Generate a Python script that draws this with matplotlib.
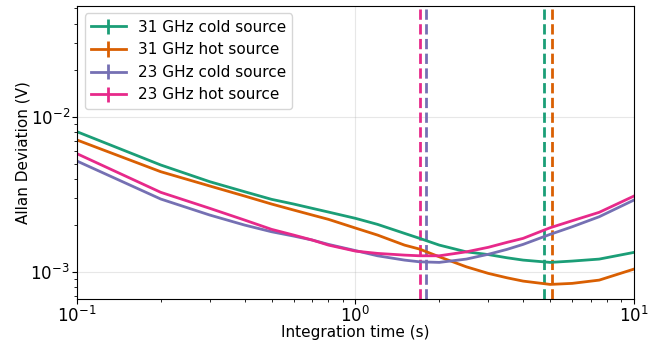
import numpy as np
import matplotlib
matplotlib.use("Agg")
import matplotlib.pyplot as plt

# integration times (s)
tau = [0.1, 0.2, 0.3, 0.4, 0.5, 0.6, 0.7, 0.8, 1.0, 1.2, 1.5, 1.7, 2.0,
       2.5, 3.0, 3.5, 4.0, 5.0, 6.0, 7.5, 10.0]

# Allan deviation (V)
adev_31_cold = [0.008036, 0.004902, 0.003825, 0.003297, 0.002944, 0.002746, 0.002576,
                0.002438, 0.002221, 0.002031, 0.001777, 0.00165, 0.001493, 0.001351,
                0.001297, 0.001237, 0.001195, 0.001155, 0.001178, 0.001213, 0.00134]
adev_31_hot = [0.007106, 0.004437, 0.003589, 0.003092, 0.002746, 0.002512, 0.002332,
               0.002188, 0.001923, 0.001733, 0.001493, 0.001407, 0.001255, 0.001082,
               0.000981, 0.000919, 0.000875, 0.000833, 0.000846, 0.000888, 0.001046]
adev_23_cold = [0.0052, 0.002958, 0.002332, 0.00201, 0.00182, 0.001707, 0.001609,
                0.001509, 0.001376, 0.001274, 0.001195, 0.001165, 0.001155, 0.001213,
                0.001303, 0.001401, 0.001509, 0.001751, 0.00196, 0.002274, 0.002914]
adev_23_hot = [0.0058, 0.003267, 0.002576, 0.002165, 0.001886, 0.001733, 0.001609,
               0.001493, 0.001366, 0.00132, 0.001287, 0.001274, 0.001274, 0.001351,
               0.001445, 0.001555, 0.00165, 0.001932, 0.002143, 0.002428, 0.003092]

# optimal integration times (s)
tau_opt = [4.77, 5.07, 1.79, 1.70]

labels = ["31 GHz cold source", "31 GHz hot source", "23 GHz cold source", "23 GHz hot source"]
colors = ["#1b9e77", "#d95f02", "#7570b3", "#e7298a"]
series = [adev_31_cold, adev_31_hot, adev_23_cold, adev_23_hot]

fig = plt.figure(figsize=(6.57, 3.43), dpi=100)
ax = fig.add_axes([0.117, 0.128, 0.848, 0.855])

for y, lab, c in zip(series, labels, colors):
    ax.errorbar(tau, y, yerr=np.zeros(len(y)), color=c, lw=2, label=lab)

for t, c in zip(tau_opt, colors):
    ax.axvline(t, color=c, ls="--", lw=2)

ax.set_xscale("log")
ax.set_yscale("log")
ax.set_xlim(0.1, 10)
ax.set_ylim(6.7e-4, 0.052)
ax.grid(True, which="major", alpha=0.3)
ax.tick_params(labelsize=12, pad=1.5)
ax.set_xlabel("Integration time (s)", fontsize=11, labelpad=-1)
ax.set_ylabel("Allan Deviation (V)", fontsize=11, labelpad=0)
ax.legend(loc="upper left", fontsize=11, handlelength=2.3)

fig.savefig("out.png", dpi=100)
